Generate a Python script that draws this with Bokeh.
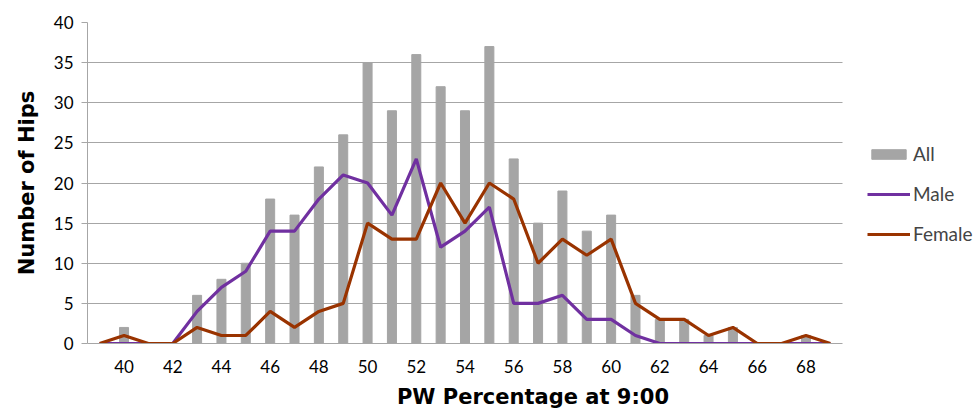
from bokeh.plotting import figure
from bokeh.models import ColumnDataSource, Legend, LegendItem, FixedTicker, Range1d
from bokeh.embed import file_html
from bokeh.resources import INLINE

pw = list(range(39, 70))
all_hips = [0, 2, 0, 0, 6, 8, 10, 18, 16, 22, 26, 35, 29, 36, 32, 29, 37, 23, 15, 19, 14, 16, 6, 3, 3, 1, 2, 0, 0, 1, 0]
male = [0, 0, 0, 0, 4, 7, 9, 14, 14, 18, 21, 20, 16, 23, 12, 14, 17, 5, 5, 6, 3, 3, 1, 0, 0, 0, 0, 0, 0, 0, 0]
female = [0, 1, 0, 0, 2, 1, 1, 4, 2, 4, 5, 15, 13, 13, 20, 15, 20, 18, 10, 13, 11, 13, 5, 3, 3, 1, 2, 0, 0, 1, 0]
x_ticks = list(range(40, 70, 2))
y_ticks = list(range(0, 45, 5))

src = ColumnDataSource(dict(x=pw, all=all_hips, male=male, female=female))

x_lo, x_hi = 38.5, 69.5
px_per_unit = 755 / (x_hi - x_lo)
frame_w = 978 - 87
p = figure(width=978, height=411, output_backend="svg", toolbar_location=None,
           x_range=Range1d(x_lo, x_lo + frame_w / px_per_unit), y_range=Range1d(0, 40),
           min_border_left=87, min_border_right=0, min_border_top=22, min_border_bottom=67)
p.outline_line_color = None
p.background_fill_color = "white"

grid_col = "#A6A6A6"
bars = p.vbar(x="x", top="all", width=0.37, bottom=0, source=src, color="#A5A5A5")
lm = p.line(x="x", y="male", source=src, line_color="#7030A0", line_width=3.2)
lf = p.line(x="x", y="female", source=src, line_color="#993300", line_width=3.2)

p.xgrid.visible = False
p.ygrid.grid_line_color = grid_col
p.ygrid.grid_line_width = 1
p.ygrid.cross_bounds = (x_lo, x_hi)
p.yaxis.ticker = FixedTicker(ticks=y_ticks)
p.xaxis.ticker = FixedTicker(ticks=x_ticks)
p.xaxis.bounds = (x_lo, x_hi)

for ax in (p.xaxis, p.yaxis):
    ax.axis_line_color = grid_col
    ax.minor_tick_line_color = None
    ax.major_label_text_font = "Lato"
    ax.major_label_text_font_size = "17px"
    ax.major_label_text_color = "#000000"
    ax.axis_label_text_font = "DejaVu Sans"
    ax.axis_label_text_font_style = "bold"
    ax.axis_label_text_font_size = "21px"
    ax.axis_label_text_color = "#000000"

p.xaxis.major_tick_line_color = None
p.xaxis.major_label_standoff = 10
p.xaxis.axis_label = "PW Percentage at 9:00"
p.xaxis.axis_label_standoff = 9
p.yaxis.major_tick_line_color = grid_col
p.yaxis.major_tick_out = 6
p.yaxis.major_tick_in = 0
p.yaxis.major_label_standoff = 8
p.yaxis.axis_label = "Number of Hips"
p.yaxis.axis_label_standoff = 12

legend = Legend(items=[LegendItem(label="All", renderers=[bars]),
                       LegendItem(label="Male", renderers=[lm]),
                       LegendItem(label="Female", renderers=[lf])],
                location=(780, 98), orientation="vertical",
                glyph_width=43, glyph_height=12, label_standoff=3, spacing=17,
                label_text_font="Lato", label_text_font_size="19px",
                border_line_color=None, background_fill_alpha=0, padding=0, margin=0)
p.add_layout(legend, "center")

open("out.html", "w").write(file_html(p, INLINE))
